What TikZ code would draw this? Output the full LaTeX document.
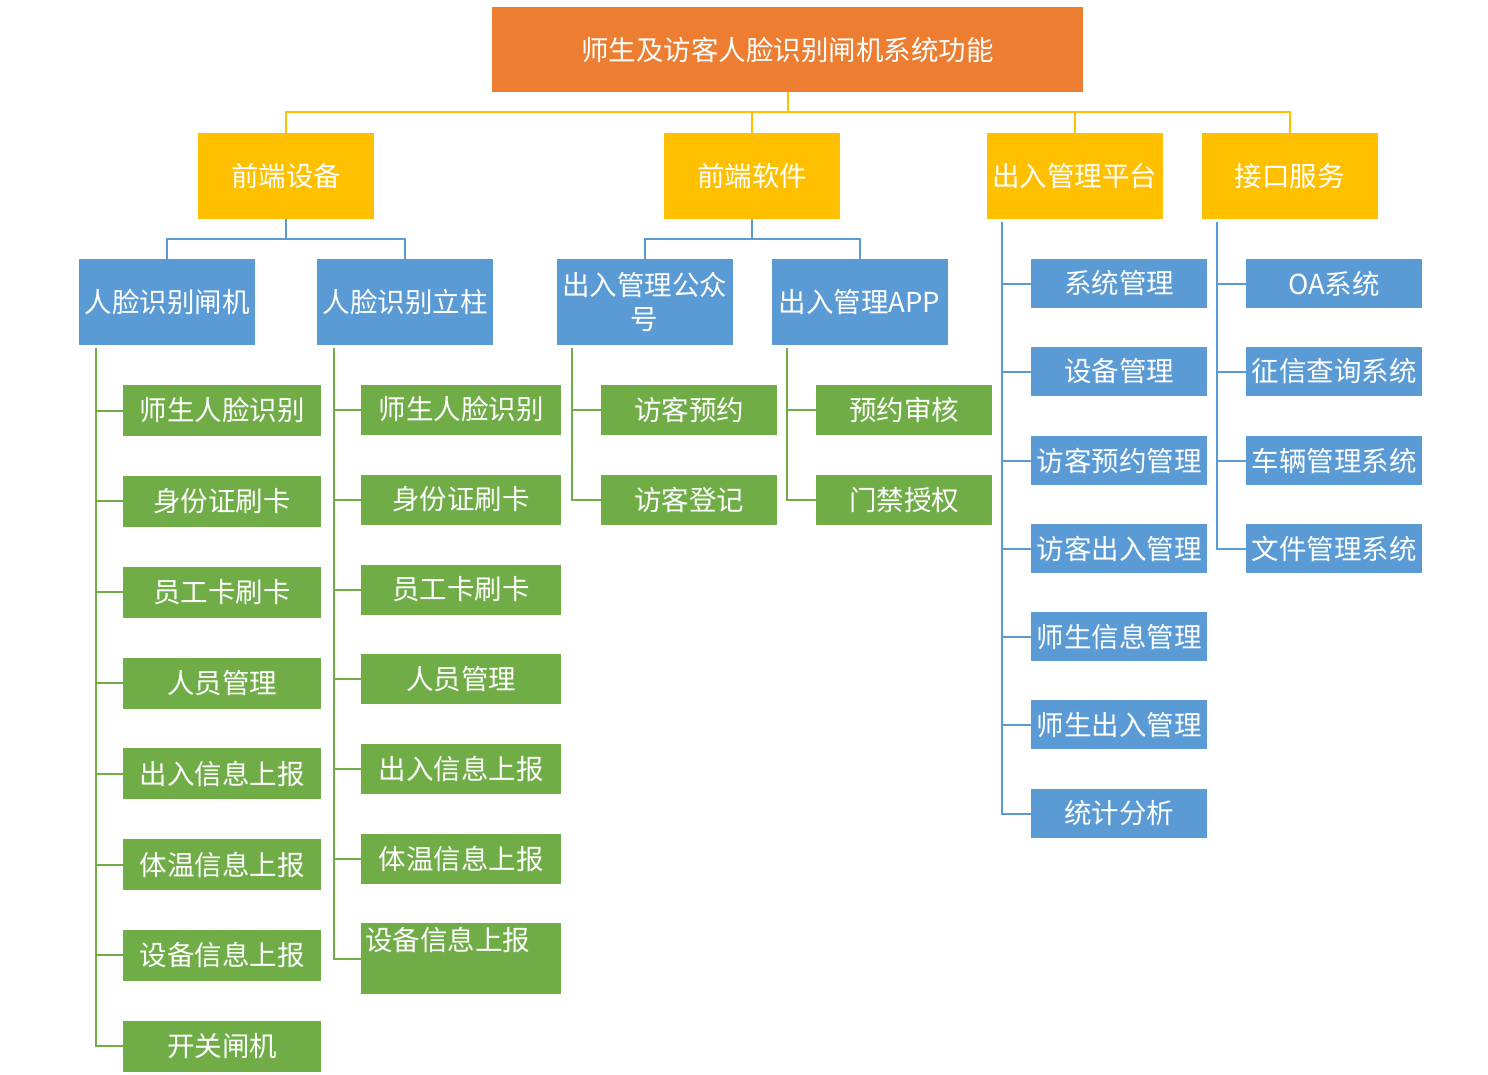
\documentclass[tikz,border=0pt]{standalone}
\usepackage{fontspec}
\setmainfont{Noto Sans CJK SC}
\usetikzlibrary{calc}
\definecolor{corange}{HTML}{ED7D31}
\definecolor{cyellow}{HTML}{FFC000}
\definecolor{cblue}{HTML}{5B9BD5}
\definecolor{cgreen}{HTML}{70AD47}
\tikzset{
  box/.style={inner sep=0pt, text=white, font=\fontsize{27.5pt}{34pt}\selectfont, align=center, minimum height=86pt, minimum width=176pt},
  rootbox/.style={box, fill=corange, minimum width=591pt, minimum height=85pt},
  lonebox/.style={box, fill=cyellow},
  ltwobox/.style={box, fill=cblue},
  gbox/.style={box, fill=cgreen, minimum height=50pt},
  gboxl/.style={box, fill=cgreen, minimum height=51pt, minimum width=198pt},
  gboxr/.style={box, fill=cgreen, minimum height=50pt, minimum width=200pt},
  bbox/.style={box, fill=cblue, minimum height=49pt},
  txt/.style={inner sep=0pt, text=white, font=\fontsize{27.5pt}{34pt}\selectfont},
  yline/.style={draw=cyellow, line width=2pt},
  bline/.style={draw=cblue, line width=2pt},
  gline/.style={draw=cgreen, line width=2pt},
}
\begin{document}
\begin{tikzpicture}[x=1pt,y=-1pt]
\useasboundingbox (0,0) rectangle (1488,1074);
% root
\node[rootbox] (root) at (787.5,49.5) {师生及访客人脸识别闸机系统功能};
% level 1
\node[lonebox] (A) at (286,176) {前端设备};
\node[lonebox] (B) at (752,176) {前端软件};
\node[lonebox] (C) at (1074.5,176) {出入管理平台};
\node[lonebox] (D) at (1289.5,176) {接口服务};
% level 2
\node[ltwobox] (A1) at (167,302) {人脸识别闸机};
\node[ltwobox] (A2) at (405,302) {人脸识别立柱};
\node[ltwobox] (B1) at (644.5,302) {出入管理公众\\号};
\node[ltwobox] (B2) at (859.5,302) {出入管理APP};
% A1 children
\node[gboxl] (A1a) at (222,410.5) {师生人脸识别};
\node[gboxl] (A1b) at (222,501) {身份证刷卡};
\node[gboxl] (A1c) at (222,592) {员工卡刷卡};
\node[gboxl] (A1d) at (222,683) {人员管理};
\node[gboxl] (A1e) at (222,773.5) {出入信息上报};
\node[gboxl] (A1f) at (222,864.5) {体温信息上报};
\node[gboxl] (A1g) at (222,955) {设备信息上报};
\node[gboxl] (A1h) at (222,1046) {开关闸机};
% A2 children
\node[gboxr] (A2a) at (461,409.5) {师生人脸识别};
\node[gboxr] (A2b) at (461,499.5) {身份证刷卡};
\node[gboxr] (A2c) at (461,589.5) {员工卡刷卡};
\node[gboxr] (A2d) at (461,679) {人员管理};
\node[gboxr] (A2e) at (461,768.5) {出入信息上报};
\node[gboxr] (A2f) at (461,858.5) {体温信息上报};
\node[gboxr, minimum height=71pt] (A2g) at (461,958.5) {};
\node[txt, anchor=west] (A2gt) at ($(A2g.north west)+(4pt,-17pt)$) {设备信息上报};
% B1, B2 children
\node[gbox] (B1a) at (689,410) {访客预约};
\node[gbox] (B1b) at (689,500) {访客登记};
\node[gbox] (B2a) at (904,410) {预约审核};
\node[gbox] (B2b) at (904,500) {门禁授权};
% C children
\node[bbox] (Ca) at (1119,283.5) {系统管理};
\node[bbox] (Cb) at (1119,371.5) {设备管理};
\node[bbox] (Cc) at (1119,460.5) {访客预约管理};
\node[bbox] (Cd) at (1119,548.5) {访客出入管理};
\node[bbox] (Ce) at (1119,636.5) {师生信息管理};
\node[bbox] (Cf) at (1119,724.5) {师生出入管理};
\node[bbox] (Cg) at (1119,813.5) {统计分析};
% D children
\node[bbox] (Da) at (1334,283.5) {OA系统};
\node[bbox] (Db) at (1334,371.5) {征信查询系统};
\node[bbox] (Dc) at (1334,460.5) {车辆管理系统};
\node[bbox] (Dd) at (1334,548.5) {文件管理系统};
% connectors
\foreach \n in {A,B,C,D}
  \draw[yline] (root.south) -- ++(0pt,-20pt) -| (\n.north);
\foreach \n in {A1,A2}
  \draw[bline] (A.south) -- ++(0pt,-20pt) -| (\n.north);
\foreach \n in {B1,B2}
  \draw[bline] (B.south) -- ++(0pt,-20pt) -| (\n.north);
\foreach \c in {A1a,A1b,A1c,A1d,A1e,A1f,A1g,A1h}
  \draw[gline] ($(A1.south west)+(17pt,-3pt)$) |- (\c.west);
\foreach \c in {A2a,A2b,A2c,A2d,A2e,A2f,A2g}
  \draw[gline] ($(A2.south west)+(17pt,-3pt)$) |- (\c.west);
\foreach \c in {B1a,B1b}
  \draw[gline] ($(B1.south west)+(16pt,-3pt)$) |- (\c.west);
\foreach \c in {B2a,B2b}
  \draw[gline] ($(B2.south west)+(16pt,-3pt)$) |- (\c.west);
\foreach \c in {Ca,Cb,Cc,Cd,Ce,Cf,Cg}
  \draw[bline] ($(C.south west)+(16pt,-3pt)$) |- (\c.west);
\foreach \c in {Da,Db,Dc,Dd}
  \draw[bline] ($(D.south west)+(16pt,-3pt)$) |- (\c.west);
\end{tikzpicture}
\end{document}
